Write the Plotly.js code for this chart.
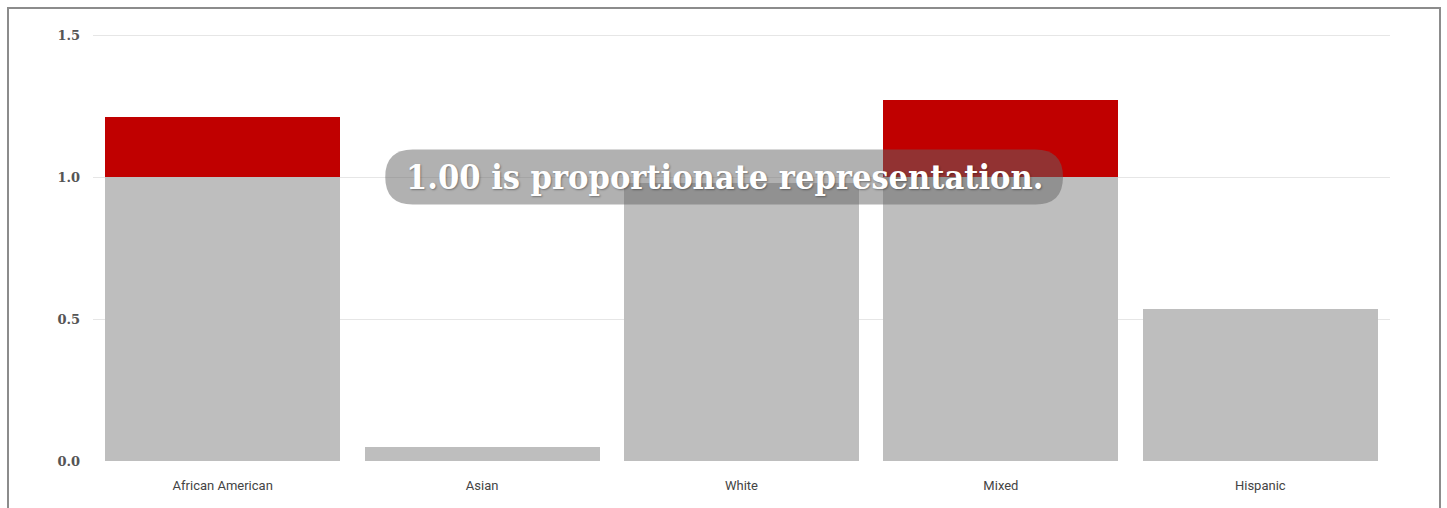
<!DOCTYPE html>
<html>
<head>
<meta charset="utf-8">
<script src="https://cdn.plot.ly/plotly-3.0.1.min.js"></script>
<style>
  html, body { margin: 0; padding: 0; background: #fff; }
  #wrap { position: relative; width: 1447px; height: 508px; overflow: hidden; }
  #chart { position: absolute; left: 0; top: 0; width: 1447px; height: 508px; }
  #frame { position: absolute; left: 7px; top: 7px; width: 1430px; height: 520px;
           border: 2px solid #8c8c8c; pointer-events: none; }
</style>
</head>
<body>
<div id="wrap">
  <div id="chart"></div>
  <div id="frame"></div>
</div>
<script>
// Representation ratio by group (1.00 = proportionate representation)
const categories = ["African American", "Asian", "White", "Mixed", "Hispanic"];
const ratios = [1.21, 0.05, 0.98, 1.27, 0.535];
const noteText = "1.00 is proportionate representation.";

const baseVals = ratios.map(v => Math.min(v, 1));
const overVals = ratios.map(v => Math.max(v - 1, 0));

const traces = [
  { type: "bar", x: categories, y: baseVals, marker: { color: "#bebebe" },
    hoverinfo: "skip", showlegend: false },
  { type: "bar", x: categories, y: overVals, marker: { color: "#c00000" },
    hoverinfo: "skip", showlegend: false }
];

// rounded "pill" behind the note, in data units
const cx = 1.933, cy = 1.0;
const halfW = 339 / 259.5, halfH = 27.5 / 284;
const rx = 27.5 / 259.5, ry = halfH;
const x0 = cx - halfW, x1 = cx + halfW, y0 = cy - halfH, y1 = cy + halfH;
const pill = `M ${x0 + rx},${y0} L ${x1 - rx},${y0} Q ${x1},${y0} ${x1},${cy} Q ${x1},${y1} ${x1 - rx},${y1} ` +
             `L ${x0 + rx},${y1} Q ${x0},${y1} ${x0},${cy} Q ${x0},${y0} ${x0 + rx},${y0} Z`;

const layout = {
  width: 1447, height: 508,
  margin: { l: 93, r: 57, t: 34, b: 47 },
  paper_bgcolor: "#ffffff", plot_bgcolor: "#ffffff",
  barmode: "stack", bargap: 0.094,
  showlegend: false,
  xaxis: {
    type: "category", range: [-0.5, 4.5],
    showgrid: false, showline: false, zeroline: false, ticks: "",
    tickfont: { family: "Roboto, sans-serif", size: 13, color: "#444" },
    ticklabelstandoff: 15
  },
  yaxis: {
    range: [0, 1.504], dtick: 0.5, tick0: 0, tickformat: ".1f",
    showgrid: true, gridcolor: "#e6e6e6", gridwidth: 1,
    zeroline: false, showline: false, ticks: "",
    tickfont: { family: "DejaVu Serif, serif", size: 13, color: "#555", weight: "bold" },
    ticklabelstandoff: 12
  },
  shapes: [
    { type: "path", xref: "x", yref: "y", path: pill, layer: "above",
      fillcolor: "rgba(100,100,100,0.5)", line: { width: 0 } }
  ],
  annotations: [
    { xref: "x", yref: "y", x: cx, y: cy, text: noteText, showarrow: false,
      xanchor: "center", yanchor: "middle",
      font: { family: "DejaVu Serif Condensed, DejaVu Serif, serif", size: 34, color: "#ffffff", weight: "bold",
              shadow: "1px 1px 2px rgba(0,0,0,0.35)" } }
  ]
};

Plotly.newPlot("chart", traces, layout, { displayModeBar: false, staticPlot: true });
</script>
</body>
</html>
